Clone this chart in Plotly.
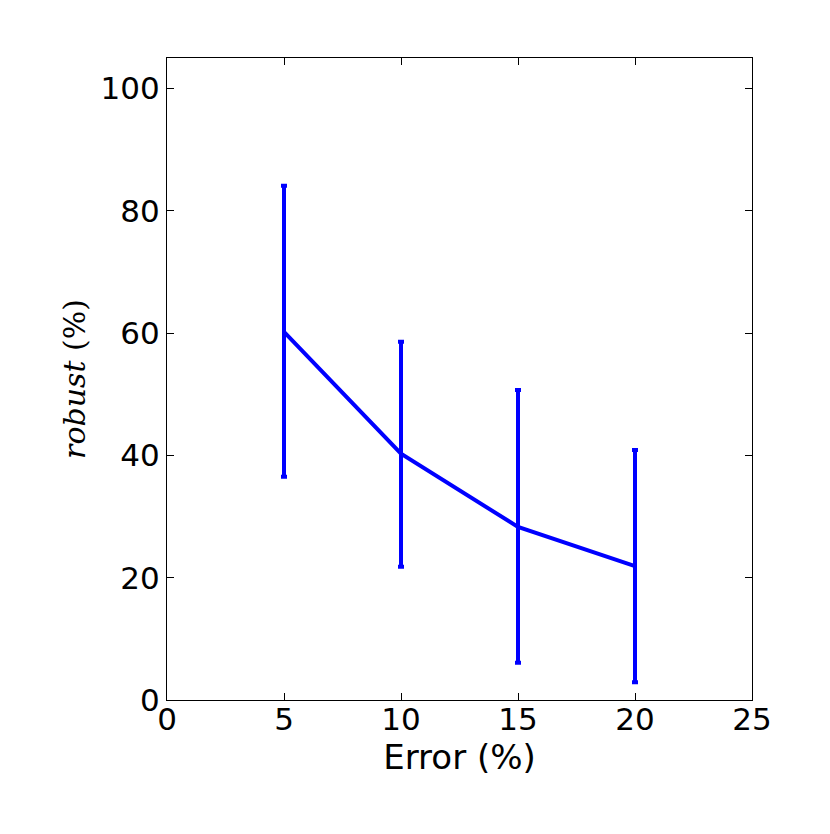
import plotly.graph_objects as go

error_pct = [5, 10, 15, 20]
robust = [60.2, 40.3, 28.3, 21.9]
err_plus = [23.9, 18.3, 22.4, 19.0]
err_minus = [23.7, 18.5, 22.2, 19.0]

fig = go.Figure()
fig.add_trace(go.Scatter(
    x=error_pct, y=robust, mode="lines",
    line=dict(color="#0000ff", width=4),
    error_y=dict(type="data", symmetric=False, array=err_plus, arrayminus=err_minus,
                 color="#0000ff", thickness=4, width=3),
    showlegend=False,
))

axis_common = dict(
    showgrid=False, zeroline=False, showline=True, linecolor="black", linewidth=1.3,
    mirror="allticks", ticks="inside", ticklen=7, tickcolor="black", tickwidth=1,
    tickfont=dict(family="DejaVu Sans", size=31, color="black"),
)
fig.update_layout(
    width=830, height=834,
    margin=dict(l=159, r=86, t=50, b=142),
    plot_bgcolor="white", paper_bgcolor="white",
    xaxis=dict(range=[0, 25], tickvals=[0, 5, 10, 15, 20, 25], ticklabelstandoff=-8,
               title=dict(text="Error (%)", font=dict(family="DejaVu Sans", size=34, color="black"), standoff=2),
               **axis_common),
    yaxis=dict(range=[0, 105], tickvals=[0, 20, 40, 60, 80, 100],
               title=dict(text="<i>robust</i> (%)", font=dict(family="DejaVu Serif", size=30, color="black"), standoff=5),
               **axis_common),
)
fig.write_html("out.html")
